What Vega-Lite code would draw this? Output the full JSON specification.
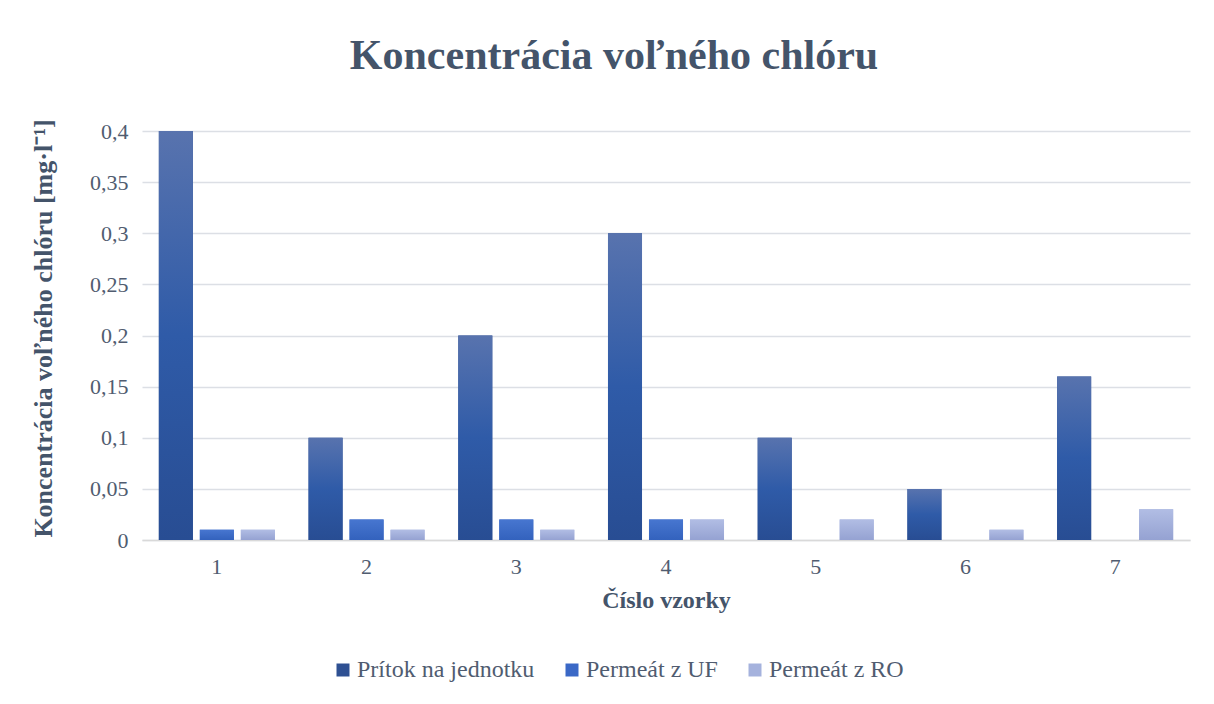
{
  "$schema": "https://vega.github.io/schema/vega-lite/v6.json",
  "autosize": {"type": "none"},
  "width": 1048,
  "height": 409,
  "padding": {"left": 142, "top": 131, "right": 24, "bottom": 164},
  "background": "#FFFFFF",
  "config": {
    "view": {"stroke": null},
    "font": "Liberation Serif"
  },
  "title": {
    "text": "Koncentrácia voľného chlóru",
    "font": "Liberation Serif",
    "fontSize": 42,
    "fontWeight": "bold",
    "color": "#44546A",
    "anchor": "middle",
    "dx": -52,
    "offset": 41
  },
  "data": {
    "values": [
      {"vzorka": "1", "seria": "Prítok na jednotku", "hodnota": 0.4},
      {"vzorka": "1", "seria": "Permeát z UF", "hodnota": 0.01},
      {"vzorka": "1", "seria": "Permeát z RO", "hodnota": 0.01},
      {"vzorka": "2", "seria": "Prítok na jednotku", "hodnota": 0.1},
      {"vzorka": "2", "seria": "Permeát z UF", "hodnota": 0.02},
      {"vzorka": "2", "seria": "Permeát z RO", "hodnota": 0.01},
      {"vzorka": "3", "seria": "Prítok na jednotku", "hodnota": 0.2},
      {"vzorka": "3", "seria": "Permeát z UF", "hodnota": 0.02},
      {"vzorka": "3", "seria": "Permeát z RO", "hodnota": 0.01},
      {"vzorka": "4", "seria": "Prítok na jednotku", "hodnota": 0.3},
      {"vzorka": "4", "seria": "Permeát z UF", "hodnota": 0.02},
      {"vzorka": "4", "seria": "Permeát z RO", "hodnota": 0.02},
      {"vzorka": "5", "seria": "Prítok na jednotku", "hodnota": 0.1},
      {"vzorka": "5", "seria": "Permeát z UF", "hodnota": 0},
      {"vzorka": "5", "seria": "Permeát z RO", "hodnota": 0.02},
      {"vzorka": "6", "seria": "Prítok na jednotku", "hodnota": 0.05},
      {"vzorka": "6", "seria": "Permeát z UF", "hodnota": 0},
      {"vzorka": "6", "seria": "Permeát z RO", "hodnota": 0.01},
      {"vzorka": "7", "seria": "Prítok na jednotku", "hodnota": 0.16},
      {"vzorka": "7", "seria": "Permeát z UF", "hodnota": 0},
      {"vzorka": "7", "seria": "Permeát z RO", "hodnota": 0.03}
    ]
  },
  "encoding": {
    "x": {
      "field": "vzorka",
      "type": "nominal",
      "sort": ["1", "2", "3", "4", "5", "6", "7"],
      "scale": {"paddingInner": 0.225, "paddingOuter": 0.1125},
      "axis": {
        "title": "Číslo vzorky",
        "titleFont": "Liberation Serif",
        "titleFontSize": 24,
        "titleFontWeight": "bold",
        "titleColor": "#44546A",
        "titlePadding": 11,
        "labelFont": "Liberation Serif",
        "labelFontSize": 22,
        "labelColor": "#505C70",
        "labelAngle": 0,
        "labelPadding": 16,
        "ticks": false,
        "domainColor": "#D9D9D9",
        "domainWidth": 1.5,
        "grid": false
      }
    },
    "xOffset": {
      "field": "seria",
      "type": "nominal",
      "sort": ["Prítok na jednotku", "Permeát z UF", "Permeát z RO"],
      "scale": {"paddingInner": 0.17, "paddingOuter": 0}
    },
    "y": {
      "field": "hodnota",
      "type": "quantitative",
      "scale": {"domain": [0, 0.4], "nice": false},
      "axis": {
        "title": "Koncentrácia voľného chlóru [mg·l⁻¹]",
        "titleFont": "Liberation Serif",
        "titleFontSize": 26,
        "titleFontWeight": "bold",
        "titleColor": "#44546A",
        "titlePadding": 33,
        "titleY": 197,
        "values": [0, 0.05, 0.1, 0.15, 0.2, 0.25, 0.3, 0.35, 0.4],
        "labelExpr": "replace(format(datum.value, '.2~f'), '.', ',')",
        "labelFont": "Liberation Serif",
        "labelFontSize": 22,
        "labelColor": "#505C70",
        "labelPadding": 14,
        "ticks": false,
        "domain": false,
        "grid": true,
        "gridColor": "#DCDFE5",
        "gridWidth": 1.5
      }
    }
  },
  "layer": [
    {
      "mark": {"type": "bar"},
      "encoding": {
        "color": {
          "field": "seria",
          "type": "nominal",
          "scale": {
            "domain": ["Prítok na jednotku", "Permeát z UF", "Permeát z RO"],
            "range": ["#2E5092", "#3A68C6", "#A5B2DD"]
          },
          "legend": {
            "title": null,
            "orient": "none",
            "direction": "horizontal",
            "legendX": 189,
            "legendY": 527,
            "symbolType": "square",
            "symbolSize": 169,
            "symbolStrokeWidth": 0,
            "labelFont": "Liberation Serif",
            "labelFontSize": 24,
            "labelColor": "#505C70",
            "labelOffset": 2,
            "labelLimit": 400,
            "columnPadding": 25,
            "padding": 0
          }
        }
      }
    },
    {
      "transform": [{"filter": "datum.seria === 'Prítok na jednotku'"}],
      "mark": {
        "type": "bar",
        "fill": {
          "gradient": "linear", "x1": 0, "y1": 0, "x2": 0, "y2": 1,
          "stops": [
            {"offset": 0, "color": "#5873AE"},
            {"offset": 0.5, "color": "#2F5BA8"},
            {"offset": 1, "color": "#284D93"}
          ]
        }
      }
    },
    {
      "transform": [{"filter": "datum.seria === 'Permeát z UF'"}],
      "mark": {
        "type": "bar",
        "fill": {
          "gradient": "linear", "x1": 0, "y1": 0, "x2": 0, "y2": 1,
          "stops": [
            {"offset": 0, "color": "#4776D0"},
            {"offset": 1, "color": "#3362BD"}
          ]
        }
      }
    },
    {
      "transform": [{"filter": "datum.seria === 'Permeát z RO'"}],
      "mark": {
        "type": "bar",
        "fill": {
          "gradient": "linear", "x1": 0, "y1": 0, "x2": 0, "y2": 1,
          "stops": [
            {"offset": 0, "color": "#B1BDE4"},
            {"offset": 1, "color": "#95A2D2"}
          ]
        }
      }
    }
  ]
}
